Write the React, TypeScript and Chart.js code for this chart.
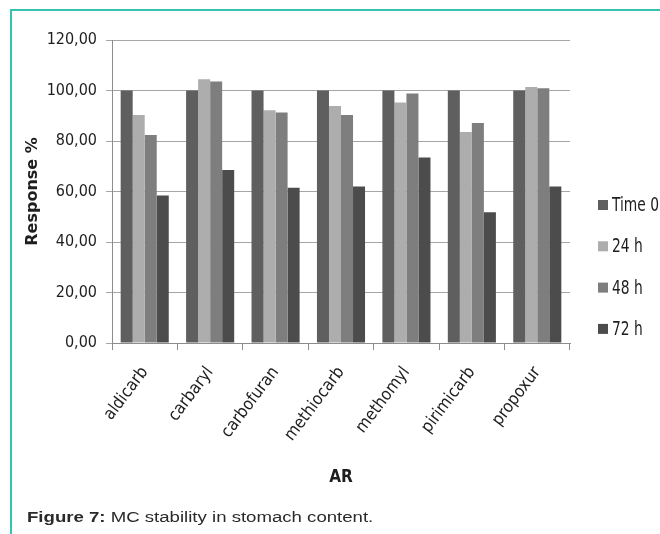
import React, { useEffect, useRef } from "react";
import { Chart, registerables } from "chart.js";

Chart.register(...registerables);

// Carbamate stability in stomach content: response (%) per compound over time
const categories = ["aldicarb", "carbaryl", "carbofuran", "methiocarb", "methomyl", "pirimicarb", "propoxur"];
const seriesNames = ["Time 0", "24 h", "48 h", "72 h"];
const time0 = [100, 100, 100, 100, 100, 100, 100];
const h24 = [90.3, 104.5, 92.2, 93.9, 95.2, 83.6, 101.4];
const h48 = [82.4, 103.6, 91.3, 90.3, 98.8, 87.1, 100.9];
const h72 = [58.4, 68.5, 61.5, 62.0, 73.5, 51.8, 62.0];
const yMin = 0;
const yMax = 120;
const yStep = 20;
const seriesColors = ["#5f5f5f", "#adadad", "#7e7e7e", "#4c4c4c"];

const NARROW = "'DejaVu Sans Condensed', 'Liberation Sans Narrow', Roboto, sans-serif";
const TEXT = "#1e1e1e";

// Right-hand legend drawn as a plugin; the labels are squeezed horizontally
// so the tall, narrow lettering fits beside the plot.
const sideLegend = {
  id: "sideLegend",
  afterDraw(chart: any) {
    const ctx = chart.ctx;
    const x = 598;
    const y0 = 205;
    const gap = 41.3;
    const box = 10;
    ctx.save();
    ctx.font = `19px ${NARROW}`;
    ctx.textBaseline = "middle";
    ctx.textAlign = "left";
    const first = chart.data.datasets[0]?.label ?? "";
    const squeeze = Math.min(1, 47 / Math.max(1, ctx.measureText(first).width));
    chart.data.datasets.forEach((ds: any, i: number) => {
      const y = y0 + i * gap;
      ctx.fillStyle = ds.backgroundColor;
      ctx.fillRect(x, y - box / 2, box, box);
      ctx.save();
      ctx.translate(x + 14, y + 1);
      ctx.scale(squeeze, 1);
      ctx.fillStyle = TEXT;
      ctx.fillText(ds.label, 0, 0);
      ctx.restore();
    });
    ctx.restore();
  },
};

function BarChart() {
  const ref = useRef<HTMLCanvasElement | null>(null);

  useEffect(() => {
    if (!ref.current) return;
    const values = [time0, h24, h48, h72];
    const chart = new Chart(ref.current, {
      type: "bar",
      data: {
        labels: categories,
        datasets: seriesNames.map((name, i) => ({
          label: name,
          data: values[i],
          backgroundColor: seriesColors[i],
          borderWidth: 0,
          barPercentage: 1,
          categoryPercentage: 0.735,
        })),
      },
      options: {
        responsive: false,
        animation: false,
        devicePixelRatio: 1,
        layout: { padding: { left: 14, top: 40, right: 90, bottom: 41 } },
        plugins: {
          legend: { display: false },
          tooltip: { enabled: false },
        },
        scales: {
          x: {
            grid: {
              offset: true,
              drawOnChartArea: false,
              drawTicks: true,
              tickLength: 7,
              color: "#8c8c8c",
            },
            border: { display: true, color: "#8c8c8c" },
            ticks: {
              color: TEXT,
              font: { family: NARROW, size: 17 },
              minRotation: 53,
              maxRotation: 53,
              padding: 13,
            },
            title: {
              display: true,
              text: "AR",
              color: TEXT,
              font: { family: NARROW, size: 17, weight: "bold" },
              padding: { top: 4, bottom: 5 },
            },
            afterFit: (scale: any) => {
              scale.height = 150;
            },
          },
          y: {
            min: yMin,
            max: yMax,
            ticks: {
              stepSize: yStep,
              color: TEXT,
              font: { family: NARROW, size: 16 },
              padding: 9,
              callback: (v: any) => Number(v).toFixed(2).replace(".", ","),
            },
            grid: { color: "#a6a6a6", tickLength: 6 },
            border: { display: true, color: "#8c8c8c" },
            title: {
              display: true,
              text: "Response %",
              color: TEXT,
              font: { family: "'DejaVu Sans', sans-serif", size: 16, weight: "bold" },
              padding: { top: 9, bottom: 0 },
            },
            afterFit: (scale: any) => {
              scale.width = 98;
            },
          },
        },
      },
      plugins: [sideLegend],
    });
    return () => chart.destroy();
  }, []);

  return <canvas ref={ref} width={660} height={534} style={{ width: 660, height: 534, display: "block" }} />;
}

export default function App() {
  return (
    <div style={{ position: "absolute", left: 0, top: 0, width: 660, height: 534, background: "#fff", overflow: "hidden" }}>
      <div style={{ position: "absolute", left: 10, top: 9, width: 650, height: 525, borderLeft: "2px solid #35c2ae", borderTop: "2px solid #35c2ae", boxSizing: "border-box" }} />
      <div style={{ position: "absolute", left: 0, top: 0 }}>
        <BarChart />
      </div>
      <div
        style={{
          position: "absolute",
          left: 27,
          top: 508,
          fontFamily: "'Liberation Sans', Arial, sans-serif",
          fontSize: 15.5,
          lineHeight: "18px",
          color: "#2a2a2a",
          whiteSpace: "nowrap",
          transform: "scaleX(1.2)",
          transformOrigin: "0 0",
        }}
      >
        <b>Figure 7:</b> MC stability in stomach content.
      </div>
    </div>
  );
}
